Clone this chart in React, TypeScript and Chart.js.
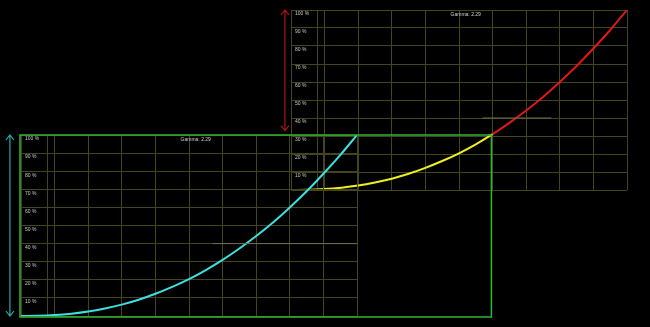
import React, { useEffect, useRef } from "react";
import { Chart, registerables } from "chart.js";

Chart.register(...registerables);

// input level (fraction of full scale)
const inputLevels = [0, 0.05, 0.1, 0.15, 0.2, 0.25, 0.3, 0.35, 0.4, 0.45, 0.5, 0.55, 0.6, 0.65, 0.7, 0.75, 0.8, 0.85, 0.9, 0.95, 1];
// output level (%)
const outputPct = [0, 0.1, 0.5, 1.3, 2.5, 4.2, 6.3, 9.0, 12.3, 16.1, 20.4, 25.4, 31.0, 37.3, 44.2, 51.7, 60.0, 68.9, 78.6, 88.9, 100];
const yTicks = [100, 90, 80, 70, 60, 50, 40, 30, 20, 10];
const gammaLabel = "Gamma: 2.29";
const splitLevel = 0.6; // where the upper curve changes from yellow to red
const markerA = { x: [0.57, 1.0], y: [40, 40] };
const markerB = { x: [0.57, 0.775], y: [40, 40] };
const extraGridLevel = 0.078;

const GRID = "#45451d";
const FONT = "'Liberation Sans', Arial, sans-serif";

function pts(xs: number[], ys: number[]) {
  return xs.map((x, i) => ({ x, y: ys[i] }));
}

function makeScales() {
  return {
    x: {
      type: "linear" as const,
      min: 0,
      max: 1,
      border: { display: false },
      grid: { color: GRID, lineWidth: 1, drawTicks: false },
      ticks: { display: false, stepSize: 0.1 },
      afterBuildTicks: (scale: any) => {
        const t = scale.ticks.slice();
        t.push({ value: extraGridLevel });
        t.sort((a: any, b: any) => a.value - b.value);
        scale.ticks = t;
      },
    },
    y: {
      type: "linear" as const,
      min: 0,
      max: 100,
      border: { display: false },
      grid: { color: GRID, lineWidth: 1, drawTicks: false },
      ticks: {
        stepSize: 10,
        mirror: true,
        padding: 4,
        labelOffset: 4,
        color: "#c8c8c8",
        font: { size: 5, family: FONT },
        callback: (v: any) => (yTicks.includes(v) ? v + " %" : ""),
      },
    },
  };
}

function arrow(ctx: CanvasRenderingContext2D, x: number, y1: number, y2: number, color: string) {
  ctx.save();
  ctx.strokeStyle = color;
  ctx.lineWidth = 1.2;
  ctx.beginPath();
  ctx.moveTo(x, y1);
  ctx.lineTo(x, y2);
  ctx.moveTo(x - 4, y1 + 5);
  ctx.lineTo(x, y1);
  ctx.lineTo(x + 4, y1 + 5);
  ctx.moveTo(x - 4, y2 - 5);
  ctx.lineTo(x, y2);
  ctx.lineTo(x + 4, y2 - 5);
  ctx.stroke();
  ctx.restore();
}

function gammaText(chart: any) {
  const ctx = chart.ctx;
  const xs = chart.scales.x;
  const ys = chart.scales.y;
  ctx.save();
  ctx.fillStyle = "#d0d0d0";
  ctx.font = `5px ${FONT}`;
  ctx.textAlign = "center";
  ctx.textBaseline = "top";
  ctx.fillText(gammaLabel, xs.getPixelForValue(0.52), ys.getPixelForValue(100) + 2);
  ctx.restore();
}

export default function App() {
  const refA = useRef<HTMLCanvasElement>(null);
  const refB = useRef<HTMLCanvasElement>(null);

  useEffect(() => {
    document.body.style.margin = "0";
    document.body.style.background = "#000";

    const curve = pts(inputLevels, outputPct);
    const upperIdx = inputLevels.map((x, i) => i).filter((i) => inputLevels[i] >= splitLevel);
    const redPart = pts(upperIdx.map((i) => inputLevels[i]), upperIdx.map((i) => outputPct[i]));

    const plugB = {
      id: "decoB",
      afterDraw(chart: any) {
        gammaText(chart);
        const xs = chart.scales.x;
        const ys = chart.scales.y;
        arrow(chart.ctx, xs.getPixelForValue(-0.018), ys.getPixelForValue(100), ys.getPixelForValue(33), "#b01515");
      },
    };

    const chartB = new Chart(refB.current!, {
      type: "line",
      data: {
        datasets: [
          {
            data: pts(markerB.x, markerB.y),
            borderColor: "#6e6e50",
            borderWidth: 1,
            pointRadius: 0,
          },
          {
            data: curve,
            borderColor: "#e01818",
            borderWidth: 2,
            pointRadius: 0,
            cubicInterpolationMode: "monotone",
            segment: {
              borderColor: (c: any) => (c.p0.parsed.x < splitLevel - 1e-9 ? "#f0f020" : "#e01818"),
            },
          },
          {
            data: redPart,
            borderColor: "#ffffff",
            borderWidth: 1,
            borderDash: [1, 7],
            pointRadius: 0,
            cubicInterpolationMode: "monotone",
          },
        ],
      },
      options: {
        animation: false,
        responsive: false,
        devicePixelRatio: 1,
        layout: { padding: { left: 283, right: 23, top: 10, bottom: 137 } },
        plugins: { legend: { display: false }, tooltip: { enabled: false } },
        scales: makeScales() as any,
      },
      plugins: [plugB],
    });

    const plugA = {
      id: "decoA",
      afterDraw(chart: any) {
        gammaText(chart);
        const xs = chart.scales.x;
        const ys = chart.scales.y;
        const ctx = chart.ctx;
        arrow(ctx, xs.getPixelForValue(-0.033), ys.getPixelForValue(100), ys.getPixelForValue(0), "#2aa8b0");
        ctx.save();
        ctx.strokeStyle = "#2fb82f";
        ctx.lineWidth = 1.5;
        const l = xs.getPixelForValue(-0.003);
        const r = xs.getPixelForValue(1.4);
        const t = ys.getPixelForValue(100);
        const b = ys.getPixelForValue(0) + 1;
        ctx.strokeRect(l, t, r - l, b - t);
        ctx.restore();
      },
    };

    const chartA = new Chart(refA.current!, {
      type: "line",
      data: {
        datasets: [
          {
            data: pts(markerA.x, markerA.y),
            borderColor: "#6e6e50",
            borderWidth: 1,
            pointRadius: 0,
          },
          {
            data: curve,
            borderColor: "#3de0e0",
            borderWidth: 2,
            pointRadius: 0,
            cubicInterpolationMode: "monotone",
          },
        ],
      },
      options: {
        animation: false,
        responsive: false,
        devicePixelRatio: 1,
        layout: { padding: { left: 13, right: 293, top: 135, bottom: 11 } },
        plugins: { legend: { display: false }, tooltip: { enabled: false } },
        scales: makeScales() as any,
      },
      plugins: [plugA],
    });

    return () => {
      chartA.destroy();
      chartB.destroy();
    };
  }, []);

  return (
    <div style={{ position: "relative", width: 650, height: 327, background: "#000", overflow: "hidden" }}>
      <canvas ref={refB} width={650} height={327} style={{ position: "absolute", left: 0, top: 0 }} />
      <canvas ref={refA} width={650} height={327} style={{ position: "absolute", left: 0, top: 0 }} />
    </div>
  );
}
